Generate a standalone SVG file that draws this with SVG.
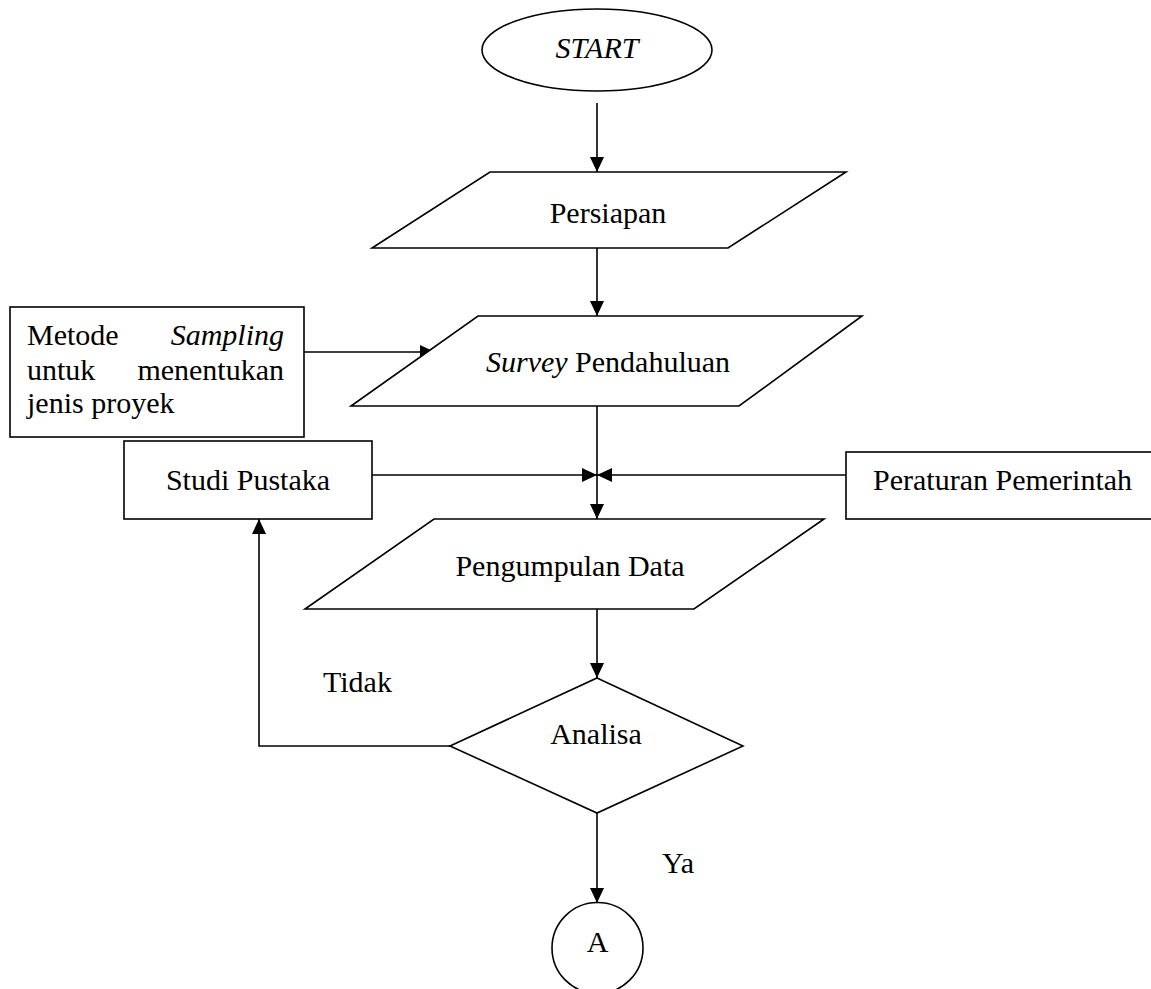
<svg xmlns="http://www.w3.org/2000/svg" width="1151" height="989" viewBox="0 0 1151 989">
<defs>
<marker id="arr" markerWidth="16" markerHeight="14" viewBox="0 0 16 14" refX="15" refY="7" orient="auto" markerUnits="userSpaceOnUse">
<path d="M0,0 L15,7 L0,14 Z" fill="#000"/>
</marker>
</defs>
<style>
.s{fill:#fff;stroke:#000;stroke-width:1.6}
.c{fill:none;stroke:#000;stroke-width:1.6}
.t{font-family:"Liberation Serif","Times New Roman",serif;font-size:30px;fill:#000}
.m{text-anchor:middle}
.e{text-anchor:end}
.i{font-style:italic}
</style>
<rect width="1151" height="989" fill="#fff"/>
<g id="connectors">
<line class="c" x1="597" y1="103" x2="597" y2="172" marker-end="url(#arr)"/>
<line class="c" x1="597" y1="248" x2="597" y2="316" marker-end="url(#arr)"/>
<line class="c" x1="304" y1="352" x2="435" y2="352" marker-end="url(#arr)"/>
<line class="c" x1="597" y1="406" x2="597" y2="519" marker-end="url(#arr)"/>
<line class="c" x1="372" y1="475" x2="597" y2="475" marker-end="url(#arr)"/>
<line class="c" x1="846" y1="475" x2="597" y2="475" marker-end="url(#arr)"/>
<line class="c" x1="597" y1="609" x2="597" y2="678" marker-end="url(#arr)"/>
<polyline class="c" points="450,746 259,746 259,519" marker-end="url(#arr)"/>
<line class="c" x1="597" y1="813" x2="597" y2="903" marker-end="url(#arr)"/>
</g>
<g id="start">
<ellipse class="s" cx="597" cy="50" rx="115" ry="41"/>
<text class="t m i" x="597" y="58">START</text>
</g>
<g id="persiapan">
<polygon class="s" points="490,172 846,172 728,248 372,248"/>
<text class="t m" x="608" y="223">Persiapan</text>
</g>
<g id="metode">
<rect class="s" x="10" y="307" width="294" height="130"/>
<text class="t" x="27" y="345">Metode</text>
<text class="t e i" x="284" y="345">Sampling</text>
<text class="t" x="27" y="380">untuk</text>
<text class="t e" x="284" y="380">menentukan</text>
<text class="t" x="27" y="413">jenis proyek</text>
</g>
<g id="survey">
<polygon class="s" points="478,316 862,316 739,406 351,406"/>
<text class="t m" x="608" y="372"><tspan class="i">Survey</tspan> Pendahuluan</text>
</g>
<g id="studi">
<rect class="s" x="124" y="441" width="248" height="78"/>
<text class="t m" x="248" y="490">Studi Pustaka</text>
</g>
<g id="peraturan">
<rect class="s" x="846" y="452" width="320" height="67"/>
<text class="t" x="873" y="490">Peraturan Pemerintah</text>
</g>
<g id="pengumpulan">
<polygon class="s" points="434,519 824,519 694,609 305,609"/>
<text class="t m" x="570" y="576">Pengumpulan Data</text>
</g>
<g id="analisa">
<polygon class="s" points="597,678 743,746 597,813 450,746"/>
<text class="t m" x="596" y="744">Analisa</text>
</g>
<g id="labels">
<text class="t" x="323" y="692">Tidak</text>
<text class="t" x="662" y="873">Ya</text>
</g>
<g id="a">
<circle class="s" cx="597.5" cy="948" r="45.5"/>
<text class="t m" x="597.5" y="952">A</text>
</g>
</svg>
